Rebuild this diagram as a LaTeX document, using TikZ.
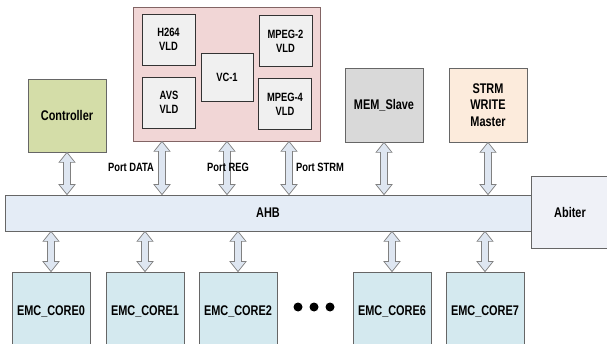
\documentclass[tikz,border=0pt]{standalone}
\usepackage{fontspec}
\setmainfont{Liberation Sans}[FakeStretch=0.78]
\usetikzlibrary{calc}

\definecolor{rosa}{RGB}{241,214,214}
\definecolor{bordorosa}{RGB}{130,100,100}
\definecolor{grigino}{RGB}{240,240,240}
\definecolor{oliva}{RGB}{212,221,168}
\definecolor{grigio}{RGB}{217,217,217}
\definecolor{pesca}{RGB}{252,235,220}
\definecolor{celeste}{RGB}{228,236,246}
\definecolor{azzurro}{RGB}{212,233,239}
\definecolor{lavanda}{RGB}{239,241,247}
\definecolor{frecciafill}{RGB}{222,230,241}

\begin{document}
\begin{tikzpicture}[x=1pt,y=-1pt,
    font=\bfseries\fontsize{14}{16.5}\selectfont,
    blocco/.style={draw=black!60,line width=0.8pt,minimum width=78pt,minimum height=74pt,inner sep=0pt,align=center},
    core/.style={blocco,fill=azzurro,minimum height=84pt},
    vld/.style={draw=black!80,fill=grigino,line width=0.8pt,minimum width=53pt,minimum height=51pt,inner sep=0pt,align=center,
      font=\bfseries\fontsize{12}{14}\selectfont},
    porta/.style={font=\bfseries\fontsize{12}{14}\selectfont},
    freccia/.style={draw=black!50,fill=frecciafill,line width=0.7pt,
      to path={let \p1=(\tikztostart), \p2=(\tikztotarget) in
        -- (\x1+8pt,\y1-10pt) -- (\x1+3.5pt,\y1-10pt) -- (\x1+3.5pt,\y2+10pt) -- (\x1+8pt,\y2+10pt)
        -- (\x1,\y2) -- (\x1-8pt,\y2+10pt) -- (\x1-3.5pt,\y2+10pt) -- (\x1-3.5pt,\y1-10pt)
        -- (\x1-8pt,\y1-10pt) -- cycle}}]

  \useasboundingbox (0,0) rectangle (607,344);
  \fill[white] (0,0) rectangle (607,344);
  \clip (0,0) rectangle (607,344);

  % decodificatori
  \node[blocco,fill=rosa,draw=bordorosa,minimum width=187pt,minimum height=134pt] (dec) at (226.5,74) {};
  \node[vld] (h264)  at (168.5,39.5) {H264\\VLD};    % alto a sinistra
  \node[vld] (avs)   at (169,102.5)  {AVS\\VLD};     % basso a sinistra
  \node[vld,minimum width=52pt,minimum height=48pt] (vc1) at (227,77) {VC-1};  % centro
  \node[vld] (mpeg2) at (285.5,41)   {MPEG-2\\VLD};  % alto a destra
  \node[vld] (mpeg4) at (285,104)    {MPEG-4\\VLD};  % basso a destra

  % master e slave sopra il bus
  \node[blocco,fill=oliva,minimum height=73pt] (ctrl) at (67,115.5) {Controller};
  \node[blocco,fill=grigio] (mem)  at (384,105) {MEM\_Slave};
  \node[blocco,fill=pesca]  (strm) at (488,105) {STRM\\WRITE\\Master};

  % bus e arbitro
  \node[blocco,fill=lavanda,minimum width=77pt,minimum height=72pt] (arb) at (570,212) {Abiter};
  \node[blocco,fill=celeste,minimum width=526pt,minimum height=36pt] (ahb) at (268,213) {AHB};

  % core sotto il bus (tagliati in basso)
  \node[core] (emc0) at (51,314)  {\raisebox{7pt}{EMC\_CORE0}};
  \node[core] (emc1) at (145,314) {\raisebox{7pt}{EMC\_CORE1}};
  \node[core] (emc2) at (238,314) {\raisebox{7pt}{EMC\_CORE2}};
  \node[core] (emc6) at (392,314) {\raisebox{7pt}{EMC\_CORE6}};
  \node[core] (emc7) at (485,314) {\raisebox{7pt}{EMC\_CORE7}};

  \fill (298,307) circle (4.5);
  \fill (314,307) circle (4.5);
  \fill (330,307) circle (4.5);

  % frecce verso il bus
  \draw[freccia] (ctrl.south) to (ctrl.south |- ahb.north);
  \draw[freccia] ([xshift=-64.5pt]dec.south) to ([xshift=-64.5pt]dec.south |- ahb.north);
  \draw[freccia] ([xshift=0.5pt]dec.south) to ([xshift=0.5pt]dec.south |- ahb.north);
  \draw[freccia] ([xshift=62.5pt]dec.south) to ([xshift=62.5pt]dec.south |- ahb.north);
  \draw[freccia] (mem.south) to (mem.south |- ahb.north);
  \draw[freccia] (strm.south) to (strm.south |- ahb.north);

  \draw[freccia] (emc0.north |- ahb.south) to (emc0.north);
  \draw[freccia] (emc1.north |- ahb.south) to (emc1.north);
  \draw[freccia] (emc2.north |- ahb.south) to (emc2.north);
  \draw[freccia] (emc6.north |- ahb.south) to (emc6.north);
  \draw[freccia] (emc7.north |- ahb.south) to (emc7.north);

  % porte
  \node[porta] (pdata) at (131,167) {Port DATA};
  \node[porta] (preg)  at (228,167) {Port REG};
  \node[porta] (pstrm) at (320,167) {Port STRM};

\end{tikzpicture}
\end{document}
